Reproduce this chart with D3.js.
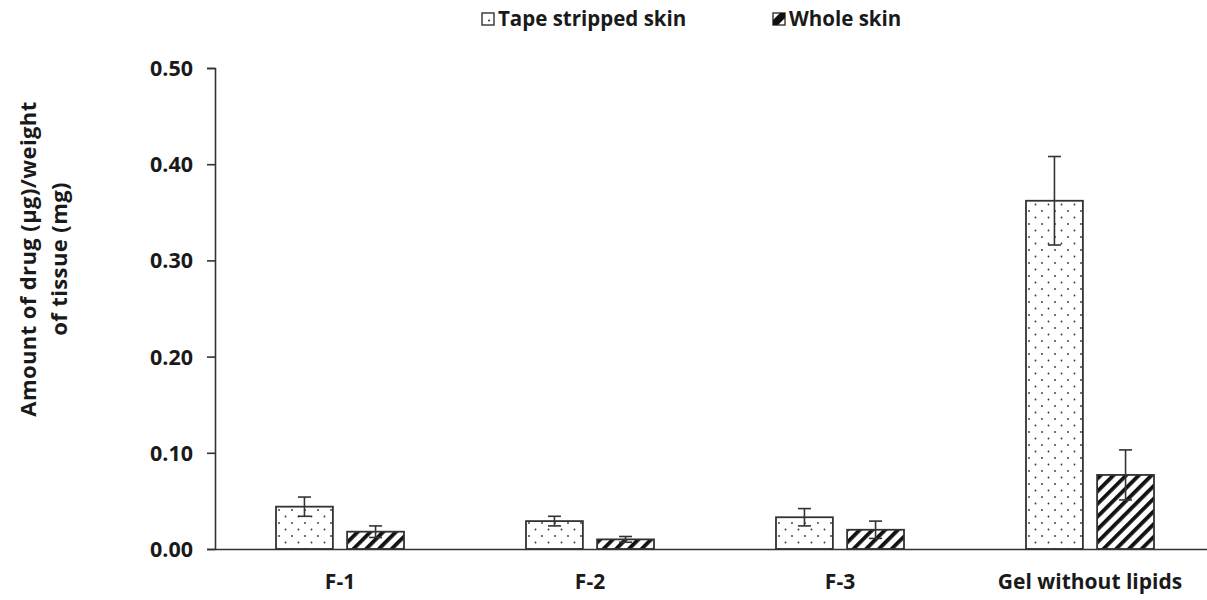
<!DOCTYPE html>
<html>
<head>
<meta charset="utf-8">
<script src="https://cdn.jsdelivr.net/npm/d3@7"></script>
<style>
  html, body { margin: 0; padding: 0; background: #fff; }
  svg text { font-family: "Open Sans", "DejaVu Sans", sans-serif; font-weight: bold; fill: #1a1a1a; }
</style>
</head>
<body>
<svg id="chart" width="1207" height="600"></svg>
<script>
// Drug retained per weight of skin tissue, by formulation
const categories = ["F-1", "F-2", "F-3", "Gel without lipids"];
const seriesNames = ["Tape stripped skin", "Whole skin"];
const tapeStripped = [0.044, 0.029, 0.033, 0.362];
const tapeStrippedErr = [0.010, 0.005, 0.009, 0.046];
const wholeSkin = [0.018, 0.010, 0.020, 0.077];
const wholeSkinErr = [0.006, 0.003, 0.009, 0.026];
const yTicks = [0, 0.1, 0.2, 0.3, 0.4, 0.5];

const svg = d3.select("#chart");
const ink = "#333";

// Fill patterns: dotted for tape-stripped skin, diagonal hatching for whole skin
const defs = svg.append("defs");
const dots = defs.append("pattern")
  .attr("id", "dots").attr("patternUnits", "userSpaceOnUse")
  .attr("width", 13).attr("height", 13);
dots.append("rect").attr("width", 13).attr("height", 13).attr("fill", "#fff");
dots.append("circle").attr("cx", 3).attr("cy", 3).attr("r", 0.9).attr("fill", "#333");
dots.append("circle").attr("cx", 9.5).attr("cy", 9.5).attr("r", 0.9).attr("fill", "#333");

const hatch = defs.append("pattern")
  .attr("id", "hatch").attr("patternUnits", "userSpaceOnUse")
  .attr("width", 9).attr("height", 9)
  .attr("patternTransform", "rotate(45)");
hatch.append("rect").attr("width", 9).attr("height", 9).attr("fill", "#fff");
hatch.append("rect").attr("x", 0).attr("y", 0).attr("width", 3.8).attr("height", 9).attr("fill", "#111");

const margin = { left: 215, top: 68, bottom: 549 };
const x = d3.scaleBand().domain(categories).range([215, 1215]).paddingInner(0).paddingOuter(0);
const xSub = d3.scaleBand().domain(seriesNames).range([0, 128]).paddingInner(0.2);
const groupOffset = (x.bandwidth() - 128) / 2;
const y = d3.scaleLinear().domain([0, 0.5]).range([margin.bottom, margin.top]);

// Y axis
const yAxis = svg.append("g")
  .attr("transform", `translate(${margin.left},0)`)
  .call(d3.axisLeft(y).tickValues(yTicks).tickFormat(d3.format(".2f")).tickSizeOuter(0).tickSize(8).tickPadding(14));
yAxis.selectAll("path, line").attr("stroke", ink).attr("stroke-width", 1.6);
yAxis.selectAll("text").style("font-size", "21.5px").attr("dy", "0.35em");

// Y axis title (two lines)
const yTitle = svg.append("text")
  .attr("transform", "translate(0,259) rotate(-90)")
  .attr("text-anchor", "middle")
  .style("font-size", "22px")
  .style("letter-spacing", "0.4px");
yTitle.append("tspan").attr("x", 0).attr("y", 36).text("Amount of drug (µg)/weight");
yTitle.append("tspan").attr("x", 0).attr("y", 67).text("of tissue (mg)");

// Bars
const rows = categories.map((c, i) => ({
  cat: c,
  vals: [
    { s: seriesNames[0], v: tapeStripped[i], e: tapeStrippedErr[i], fill: "url(#dots)" },
    { s: seriesNames[1], v: wholeSkin[i], e: wholeSkinErr[i], fill: "url(#hatch)" }
  ]
}));

const groups = svg.append("g").selectAll("g").data(rows).join("g")
  .attr("transform", d => `translate(${x(d.cat) + groupOffset},0)`);

groups.selectAll("rect").data(d => d.vals).join("rect")
  .attr("x", d => xSub(d.s))
  .attr("y", d => y(d.v))
  .attr("width", xSub.bandwidth())
  .attr("height", d => y(0) - y(d.v))
  .attr("fill", d => d.fill)
  .attr("stroke", ink).attr("stroke-width", 1.8);

// Error bars
const eb = groups.selectAll("g.err").data(d => d.vals).join("g").attr("class", "err")
  .attr("stroke", ink).attr("stroke-width", 1.6);
eb.append("line")
  .attr("x1", d => xSub(d.s) + xSub.bandwidth() / 2).attr("x2", d => xSub(d.s) + xSub.bandwidth() / 2)
  .attr("y1", d => y(d.v + d.e)).attr("y2", d => y(d.v - d.e));
eb.append("line")
  .attr("x1", d => xSub(d.s) + xSub.bandwidth() / 2 - 6.5).attr("x2", d => xSub(d.s) + xSub.bandwidth() / 2 + 6.5)
  .attr("y1", d => y(d.v + d.e)).attr("y2", d => y(d.v + d.e));
eb.append("line")
  .attr("x1", d => xSub(d.s) + xSub.bandwidth() / 2 - 6.5).attr("x2", d => xSub(d.s) + xSub.bandwidth() / 2 + 6.5)
  .attr("y1", d => y(d.v - d.e)).attr("y2", d => y(d.v - d.e));

// X axis
const xAxis = svg.append("g")
  .attr("transform", `translate(0,${margin.bottom})`)
  .call(d3.axisBottom(x).tickSize(0).tickSizeOuter(0).tickPadding(25));
xAxis.select("path").attr("stroke", ink).attr("stroke-width", 1.6);
xAxis.selectAll("text").style("font-size", "21px");

// Legend
const legendItems = [
  { name: seriesNames[0], x: 482 },
  { name: seriesNames[1], x: 773 }
];
const lg = svg.append("g").selectAll("g").data(legendItems).join("g")
  .attr("transform", d => `translate(${d.x},13)`);
// tape-stripped swatch: outlined square with a single dot
lg.filter((d, i) => i === 0).each(function () {
  const g = d3.select(this);
  g.append("rect").attr("width", 12).attr("height", 12).attr("fill", "#fff").attr("stroke", ink).attr("stroke-width", 1.4);
  g.append("circle").attr("cx", 7).attr("cy", 7.5).attr("r", 1).attr("fill", ink);
});
// whole-skin swatch: outlined square split diagonally
lg.filter((d, i) => i === 1).each(function () {
  const g = d3.select(this);
  g.append("rect").attr("width", 12).attr("height", 12).attr("fill", "#fff").attr("stroke", ink).attr("stroke-width", 1.4);
  g.append("path").attr("d", "M0,12 L0,7 L7,0 L12,0 L12,5 L5,12 Z").attr("fill", "#111");
});
lg.append("text").attr("x", 16).attr("y", 13).style("font-size", "20.5px").text(d => d.name);
</script>
</body>
</html>
